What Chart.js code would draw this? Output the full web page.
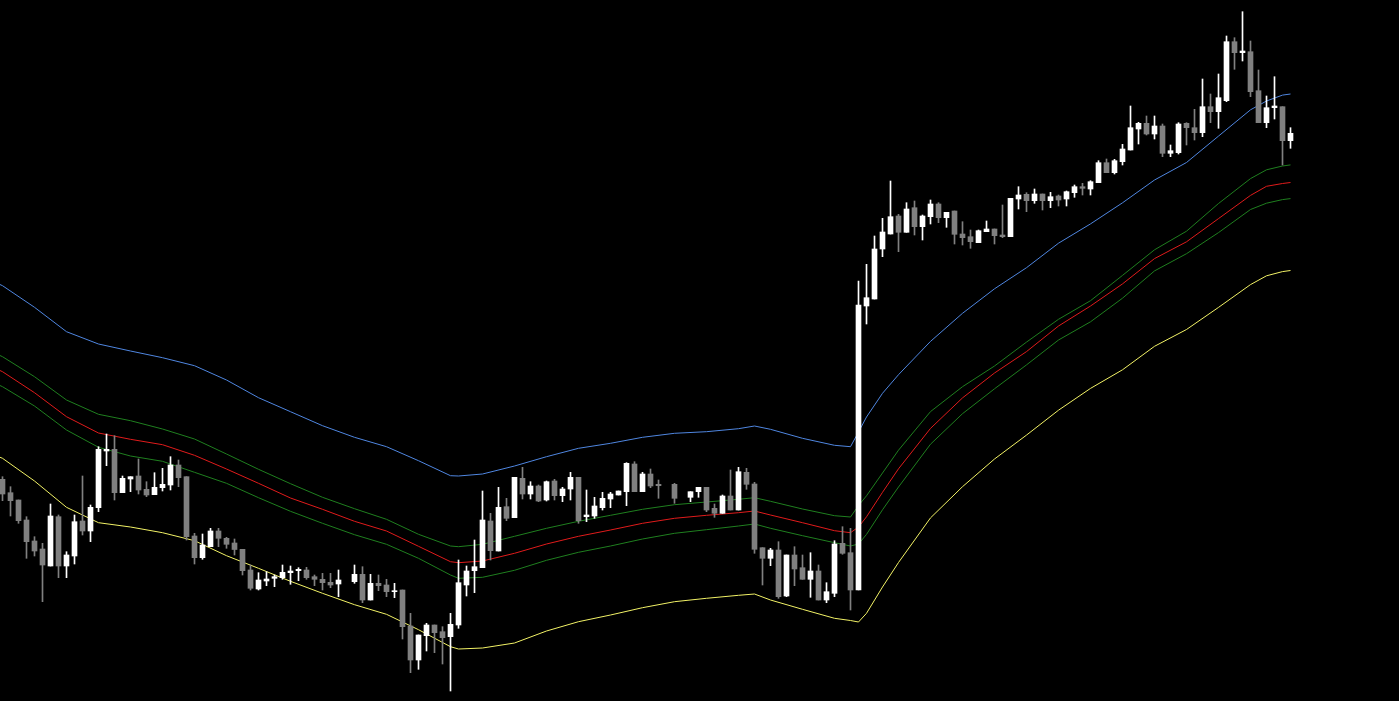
<!DOCTYPE html>
<html>
<head>
<meta charset="utf-8">
<title>Candles</title>
<script src="https://cdn.jsdelivr.net/npm/chart.js@4/dist/chart.umd.min.js"></script>
<style>
  html, body { margin: 0; padding: 0; background: #000; overflow: hidden; }
  canvas { display: block; background: #000; }
</style>
</head>
<body>
<canvas id="grafico" width="1399" height="701"></canvas>
<script>
// Velas (precio en puntos, null = sin barra)
const open = [
    221.7, 208.3, 201, 181, 160, 152, 135, 184.3, 135, 145,
    180, 170, 193.3, 250, 251.7, 208.3, 222, 225, 211.7, 206.3,
    213.3, 216, 236, 224.3, 165, 143.3, 154.3, 170, 162.7, 158,
    151.7, 131, 112, 120, 122.7, 123.3, 128.3, 130.3, 131, 124.3,
    121.7, 118.7, 117, null, 119.3, 126.7, 101, 117.7, 116, 109.3,
    111, 75, 41, 65.3, 76, 69.3, 64.3, 76, 116, 130.3,
    133.3, 180, 150, 194.3, 183.3, 222.7, 207, 215, 201, 220,
    205.3, 212, 223.7, 184.3, 185, 193.3, 202, 206, 209.3, 237,
    209.3, 227, 216.7, null, 216.7, null, 203.7, 209.3, 213.7, 192.7,
    187.7, 205, 191, 228.7, 217, 153.3, 142.7, 151, 105, 146,
    133.3, 121.7, 130, 101, 107.7, 157.7, 148.3, 111, 395, 402,
    452, 467, 485, 468.7, 493.3, 474.3, 484.3, 497, 483.3, 490,
    467, 464.3, 458.3, 469.3, 472, 466, 464.3, 502, 506.7, 500.3,
    507, 500.3, 505, 502, 508.3, 514.3, 512, 518.3, 538.3, 528.3,
    539.3, 551, 572, 577.7, 567, 575, 547.7, 548.3, 577.7, 573.3,
    568.3, 594.3, 589.3, 600.3, 659.3, 648.3, 649.3, 610.3, 578.3, 593.3,
    594.3, 560.3
];
const close = [
    207, 200.3, 180.3, 159.3, 150, 136, 185, 135, 146, 179.3,
    170, 193.7, 251.7, 251.7, 208.3, 222.7, 224.3, 211, 206, 213.7,
    216.7, 236, 223.3, 164.3, 143.3, 156, 170, 162.7, 156.7, 151.5,
    130.3, 112.7, 121, 122, 124.3, 128.7, 130, 131.7, 123.3, 121.7,
    118.3, 116, 121, null, 126.7, 101, 117.7, 115.3, 109.3, 110.3,
    74.3, 41, 66, 76, 68.3, 63.3, 76.7, 118.3, 130, 134.3,
    181, 150.3, 193.7, 182.7, 223.7, 207, 215, 200, 219.3, 205.3,
    212, 223.7, 180.3, 186, 195, 202.7, 207, 210, 237.7, 209.3,
    227, 215, 215.3, null, 202.7, null, 209.3, 213.7, 191, 187.7,
    205, 191, 229.3, 216.7, 151.7, 142.7, 151, 104.3, 146, 132,
    121.7, 130, 101, 109.3, 157, 147.7, 111, 396, 403.3, 452,
    469, 484.3, 468.7, 492, 474.3, 485, 497, 483.3, 488.7, 466.7,
    463.3, 459.3, 470.3, 472, 465.3, 464.3, 502.7, 506, 500.3, 507,
    500.3, 504.3, 501, 509.3, 514.3, 512.7, 519.3, 538.3, 528.3, 540.3,
    552, 573.3, 577.7, 567, 575, 547.7, 550.3, 577, 573.3, 568.3,
    594.3, 589.3, 603.3, 659.3, 648.3, 650, 609.3, 578.3, 593.3, 595,
    560.3, 567.7
];
const high = [
    224.3, 214.3, 201, 184.3, 164.3, 157.7, 197, 186, 149.3, 186,
    225, 196, 254.3, 267, 265.3, 225, 224.3, 242, 219.3, 228.3,
    232.7, 244.3, 241, 224.3, 167.7, 167, 172.7, 172.7, 163.7, 162,
    151.7, 136, 128.3, 129.3, 126, 136, 135, 133.3, 133.7, 126,
    127.7, 127.7, 131, null, 136, 134.3, 126.7, 126, 121.7, 117.7,
    111, 87.7, 66, 77.7, 76, 74.3, 87.7, 141, 135, 161,
    210, 187.7, 213.7, 202.7, 223.7, 233.7, 219.3, 216, 220, 221.7,
    213.7, 228.7, 223.7, 211, 203.7, 208.7, 208.7, 210, 238.3, 239.3,
    228.7, 232, 221, null, 217.7, null, 209.3, 213.7, 213.7, 197,
    206, 231, 233.7, 232.7, 218.7, 153.3, 152.7, 159.3, 146, 154.3,
    146, 148.3, 136, 118.3, 160.3, 174.3, 172.7, 420, 436.7, 465,
    482.7, 520, 486.7, 498.3, 500, 486, 501, 498.3, 488.7, 490,
    479.3, 471, 471, 480, 472, 496, 502.7, 514.3, 508.3, 512,
    507, 508.7, 506, 510, 516, 517.7, 520.3, 540.3, 542, 541.7,
    556.7, 595, 578.7, 585, 585, 577, 556, 578.3, 578.3, 591.7,
    622, 607, 627, 665, 663.3, 689.3, 660, 631, 605, 624.3,
    594.3, 573.3
];
const low = [
    200.3, 185, 177.7, 142.7, 145, 99.3, 135, 123.3, 123.3, 137,
    166, 159.3, 189.3, 235.3, 201, 208.3, 209.3, 207, 204.3, 206.3,
    210, 211, 214.3, 161, 137, 141.7, 154.3, 154.3, 152.7, 146,
    126, 111, 111, 115.3, 114.3, 121.7, 116.7, 120.3, 121.7, 115.3,
    111, 113.3, 104.3, null, 117.7, 98.3, 101, 110.3, 104.3, 103.3,
    62, 28.3, 31.7, 50, 48.3, 37, 10, 72.7, 105, 108.3,
    133.3, 141, 150, 180.3, 183.3, 202, 202, 199.3, 200, 201,
    199.3, 201, 177.7, 179.3, 182.7, 191, 193.3, 206, 195.3, 209.3,
    209.3, 213.3, 202.7, null, 197.7, null, 199.3, 203.7, 189.3, 183.7,
    187.7, 191, 191, 211.7, 147.7, 116, 135.3, 102.7, 104.3, 115.3,
    121.7, 103.7, 101, 98.3, 104.3, 146.7, 91, 111, 377, 402,
    444.3, 467, 449.3, 468.7, 466, 461, 477, 478.3, 473.7, 457,
    456, 452.7, 458.3, 469.3, 457, 463.3, 464.3, 492, 489.3, 497.7,
    491, 493.3, 495, 495, 503.7, 506, 506, 518.3, 528.3, 527,
    536, 551, 557, 566, 562, 544.3, 544.3, 547, 556, 561,
    564.3, 578.3, 572.7, 599.3, 631.7, 640, 604.3, 578.3, 573.3, 582,
    536, 552.7
];

// Bandas del indicador (leidas cada pocas velas)
const bandIdx = [
    -1, 0, 4, 8, 12, 16, 20, 24, 28, 32, 36, 40, 44, 48, 52, 56, 57,
    60, 64, 68, 72, 76, 80, 84, 88, 92, 94, 96, 100, 104, 106, 107, 108,
    110, 112, 116, 120, 124, 128, 132, 136, 140, 144, 148, 152, 156, 158, 160, 161
];
const bandaAzul = [
    419, 415.3, 393.7, 369.3, 357, 350, 343.3, 335.3, 321, 303.3, 289.3, 275.3, 263.7, 254.3, 240.3, 225.3, 225,
    227, 235, 244.3, 252.7, 257.7, 263.7, 267.7, 269.3, 272.3, 275, 271.7, 262.7, 255.7, 254.3, 269, 284,
    307.7, 326.3, 359.6, 387.7, 412.2, 433.3, 457.8, 477.1, 498.2, 521, 538.5, 564.9, 591.2, 600, 605.9, 607
];
const bandaVerdeSup = [
    348, 344.3, 324.3, 301, 286.7, 280.3, 272, 262, 247, 231.7, 217.3, 203.7, 192.3, 181.7, 166.7, 155, 154.3,
    156.7, 164.7, 172.7, 179.7, 185.7, 191.7, 196.3, 199, 201.7, 203.3, 199.7, 192, 185.3, 184, 195.5, 205.2,
    228, 250.8, 289.4, 314.3, 335, 358.9, 381.7, 400.3, 425.6, 451.2, 469.8, 497.5, 522.4, 531.2, 535, 536.1
];
const bandaRoja = [
    333, 329.3, 308.3, 284.3, 268, 261.7, 256.3, 245.7, 232, 217.7, 203, 191.7, 179.7, 170, 154.7, 139.3, 138.3,
    140, 147.7, 157, 164.7, 171, 177.7, 182.7, 185.7, 188.3, 190, 186, 178.3, 170.3, 168.3, 174, 184.2,
    208.7, 232.2, 272.6, 303.1, 328, 349.4, 375, 395, 417.1, 442.4, 459.2, 482.4, 505.6, 514.7, 517.5, 518.5
];
const bandaVerdeInf = [
    318, 314.3, 295, 271, 253.7, 245, 239.7, 228.7, 217.7, 203.3, 189.7, 177.7, 166.3, 156.7, 142.7, 126, 122.7,
    123.7, 130.7, 140.7, 148.7, 155, 162, 167.7, 171.3, 175, 177, 172.7, 165.3, 158.3, 155, 157, 166.6,
    191.2, 214, 256.8, 287.3, 312.2, 336.1, 361, 379.2, 402.8, 430.1, 447.3, 468.4, 491.5, 497.8, 501.4, 502.4
];
const bandaAmarilla = [
    246, 242.7, 220, 193.7, 178.3, 174, 168.3, 160.3, 145.3, 132.7, 119.7, 107.7, 96.3, 86.7, 71.3, 54.3, 52,
    53, 58, 70, 79.3, 86, 93.3, 99.3, 102.7, 105.7, 107, 101, 91.7, 82.7, 80.5, 79, 87.7,
    114, 138.5, 183.1, 214.3, 242, 265.9, 290.8, 312.6, 331.2, 354.7, 371.5, 393.6, 416.4, 425.2, 429.4, 430.5
];

const COLOR_ALCISTA = '#ffffff';
const COLOR_BAJISTA = '#808080';

// Armar datos de velas desde los arrays
function armarVelas() {
    const cuerpos = [];
    const mechas = [];
    const colores = [];
    for (let i = 0; i < open.length; i++) {
        if (open[i] === null) continue;
        cuerpos.push({ x: i, y: [open[i], close[i]] });
        mechas.push({ x: i, y: [low[i], high[i]] });
        colores.push(close[i] >= open[i] ? COLOR_ALCISTA : COLOR_BAJISTA);
    }
    return { cuerpos, mechas, colores };
}

function linea(valores, color) {
    return {
        type: 'line',
        data: bandIdx.map((x, k) => ({ x: x, y: valores[k] })),
        borderColor: color,
        borderWidth: 1,
        pointRadius: 0,
        tension: 0,
        fill: false,
        order: 5
    };
}

function dibujarGrafico() {
    const velas = armarVelas();

    new Chart(document.getElementById('grafico'), {
        type: 'bar',
        data: {
            datasets: [
                {
                    data: velas.cuerpos,
                    backgroundColor: velas.colores,
                    barThickness: 5,
                    minBarLength: 1,
                    grouped: false,
                    order: 0
                },
                {
                    data: velas.mechas,
                    backgroundColor: velas.colores,
                    barThickness: 1,
                    grouped: false,
                    order: 1
                },
                linea(bandaAzul, '#4f86e0'),
                linea(bandaVerdeSup, '#1f7f1f'),
                linea(bandaRoja, '#e01b1b'),
                linea(bandaVerdeInf, '#1f7f1f'),
                linea(bandaAmarilla, '#f2f266')
            ]
        },
        options: {
            responsive: false,
            animation: false,
            devicePixelRatio: 1,
            layout: { padding: 0 },
            plugins: {
                legend: { display: false },
                tooltip: { enabled: false }
            },
            scales: {
                x: {
                    type: 'linear',
                    display: false,
                    offset: false,
                    min: -0.3125,
                    max: 174.5625
                },
                y: {
                    display: false,
                    min: 0,
                    max: 701
                }
            }
        }
    });
}

document.addEventListener('DOMContentLoaded', () => {
    dibujarGrafico();
});
</script>
</body>
</html>
